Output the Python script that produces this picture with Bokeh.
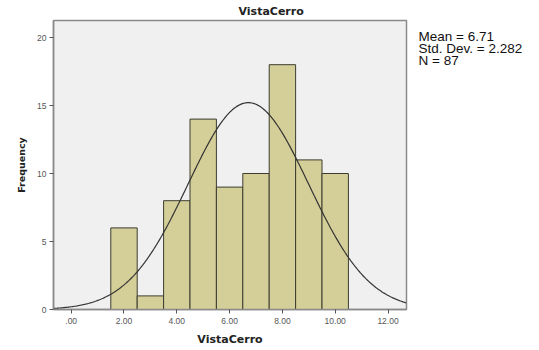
import numpy as np
from bokeh.plotting import figure
from bokeh.layouts import row
from bokeh.models import Range1d, FixedTicker
from bokeh.core.properties import value
from bokeh.embed import file_html
from bokeh.resources import INLINE

# data
bin_left = [1.5, 2.5, 3.5, 4.5, 5.5, 6.5, 7.5, 8.5, 9.5]
bin_right = [2.5, 3.5, 4.5, 5.5, 6.5, 7.5, 8.5, 9.5, 10.5]
counts = [6, 1, 8, 14, 9, 10, 18, 11, 10]
mean = 6.71
std = 2.282
n = 87
x_ticks = [0, 2, 4, 6, 8, 10, 12]
x_tick_labels = [".00", "2.00", "4.00", "6.00", "8.00", "10.00", "12.00"]
y_ticks = [0, 5, 10, 15, 20]
stats = ["Mean = %.2f" % mean, "Std. Dev. = %.3f" % std, "N = %d" % n]

p = figure(width=408, height=334, output_backend="svg", toolbar_location=None,
           x_range=Range1d(-0.67, 12.7), y_range=Range1d(0, 21.25),
           min_border_left=53, min_border_right=2, min_border_top=19, min_border_bottom=26)
p.frame_width = 353
p.frame_height = 289

p.title.text = "VistaCerro"
p.title.align = "left"
p.title.offset = 185
p.title.text_font = "DejaVu Sans"
p.title.text_font_style = "bold"
p.title.text_font_size = "11px"
p.title.text_color = "#222222"
p.title.standoff = 5

p.background_fill_color = "#f0f0f0"
p.border_fill_color = "white"
p.outline_line_color = "#8a8a8a"
p.outline_line_width = 1.5
p.grid.visible = False

p.quad(left=bin_left, right=bin_right, bottom=0, top=counts,
       fill_color="#d4cf98", line_color="#3c3c30", line_width=1)

xs = np.linspace(-0.67, 12.7, 300)
ys = n * 1.0 / (std * np.sqrt(2 * np.pi)) * np.exp(-0.5 * ((xs - mean) / std) ** 2)
p.line(xs, ys, line_color="#333333", line_width=1.2)

for ax in (p.xaxis[0], p.yaxis[0]):
    ax.axis_line_color = "#8a8a8a"
    ax.axis_line_width = 1.5
    ax.major_tick_line_color = "#555555"
    ax.major_tick_out = 4
    ax.major_tick_in = 0
    ax.minor_tick_line_color = None
    ax.major_label_text_font = "Liberation Sans"
    ax.major_label_text_font_size = "8.5px"
    ax.major_label_text_color = "#555555"
    ax.axis_label_text_font = "DejaVu Sans"
    ax.axis_label_text_font_style = "bold"
    ax.axis_label_text_color = "#222222"

p.xaxis.ticker = FixedTicker(ticks=x_ticks)
p.xaxis.major_label_overrides = {t: l for t, l in zip(x_ticks, x_tick_labels)}
p.xaxis.axis_label = "VistaCerro"
p.xaxis.axis_label_text_font_size = "11px"
p.xaxis.axis_label_standoff = 6
p.xaxis.major_label_standoff = 4

p.yaxis.ticker = FixedTicker(ticks=y_ticks)
p.yaxis.axis_label = "Frequency"
p.yaxis.axis_label_text_font_size = "9.5px"
p.yaxis.axis_label_standoff = 7
p.yaxis.major_label_standoff = 3

# side panel with statistics (its frame is aligned with the main frame)
p2 = figure(width=125, height=334, output_backend="svg", toolbar_location=None,
            x_range=Range1d(408, 533), y_range=Range1d(308, 19),
            min_border_left=0, min_border_right=0, min_border_top=19, min_border_bottom=26)
p2.frame_width = 125
p2.frame_height = 289
p2.axis.visible = False
p2.grid.visible = False
p2.outline_line_color = None
p2.background_fill_color = "white"
p2.text(x=[418, 418, 418], y=[34.5, 46.5, 58.5], text=stats, text_align="left",
        text_baseline="alphabetic",
        text_font=value("Liberation Sans"), text_font_size="13.5px", text_color="#111111")

layout = row(p, p2, spacing=0)
open("out.html", "w").write(file_html(layout, INLINE))
